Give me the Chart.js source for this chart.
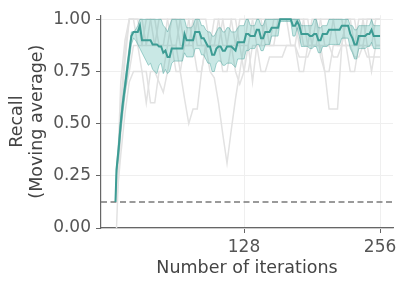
<!DOCTYPE html>
<html>
<head>
<meta charset="utf-8">
<script src="https://cdn.jsdelivr.net/npm/chart.js@4/dist/chart.umd.min.js"></script>
<style>
    html, body { margin: 0; padding: 0; background: #fff; }
    #wrap { width: 407px; height: 287px; position: relative; }
</style>
</head>
<body>
<div id="wrap"><canvas id="recallChart"></canvas></div>
<script>
// iterations for the highlighted method (mean + band)
const meanIters = [7, 8, 10, 12, 14, 16, 18, 20, 22, 24,
    26, 28, 30, 32, 34, 36, 38, 40, 42, 44,
    46, 48, 50, 52, 54, 56, 58, 60, 62, 64,
    66, 68, 70, 72, 74, 76, 78, 80, 82, 84,
    86, 88, 90, 92, 94, 96, 98, 100, 102, 104,
    106, 108, 110, 112, 114, 116, 118, 120, 122, 124,
    126, 128, 130, 132, 134, 136, 138, 140, 142, 144,
    146, 148, 150, 152, 154, 156, 158, 160, 162, 164,
    166, 168, 170, 172, 174, 176, 178, 180, 182, 184,
    186, 188, 190, 192, 194, 196, 198, 200, 202, 204,
    206, 208, 210, 212, 214, 216, 218, 220, 222, 224,
    226, 228, 230, 232, 234, 236, 238, 240, 242, 244,
    246, 248, 250, 252, 254, 256];

const meanRecall = [0.125, 0.28, 0.38, 0.50, 0.60, 0.68, 0.76, 0.84, 0.92, 0.94,
    0.94, 0.94, 0.97, 0.90, 0.90, 0.90, 0.90, 0.90, 0.88, 0.88,
    0.88, 0.87, 0.87, 0.84, 0.85, 0.82, 0.82, 0.86, 0.86, 0.86,
    0.86, 0.86, 0.86, 0.93, 0.90, 0.90, 0.90, 0.90, 0.94, 0.94,
    0.94, 0.91, 0.91, 0.89, 0.87, 0.87, 0.83, 0.83, 0.86, 0.87,
    0.87, 0.85, 0.85, 0.87, 0.87, 0.87, 0.86, 0.85, 0.89, 0.89,
    0.89, 0.89, 0.93, 0.93, 0.92, 0.92, 0.92, 0.95, 0.95, 0.91,
    0.91, 0.94, 0.94, 0.94, 0.96, 0.96, 0.96, 0.96, 1.0, 1.0,
    1.0, 1.0, 1.0, 1.0, 0.97, 0.97, 0.99, 0.97, 0.93, 0.93,
    0.93, 0.93, 0.92, 0.92, 0.93, 0.93, 0.90, 0.90, 0.93, 0.93,
    0.93, 0.95, 0.95, 0.95, 0.95, 0.95, 0.95, 0.97, 0.97, 0.97,
    0.97, 0.93, 0.91, 0.88, 0.88, 0.92, 0.92, 0.92, 0.92, 0.93,
    0.93, 0.95, 0.92, 0.92, 0.92, 0.92];

const upperRecall = [0.125, 0.30, 0.42, 0.54, 0.63, 0.71, 0.79, 0.87, 0.94, 0.94,
    0.95, 0.97, 1.0, 1.0, 1.0, 1.0, 1.0, 1.0, 1.0, 1.0,
    1.0, 1.0, 1.0, 0.97, 0.96, 0.94, 0.97, 1.0, 1.0, 1.0,
    1.0, 1.0, 1.0, 1.0, 0.96, 0.96, 0.96, 0.97, 1.0, 1.0,
    1.0, 0.97, 0.97, 0.95, 0.94, 0.94, 0.92, 0.92, 0.94, 0.96,
    0.96, 0.94, 0.94, 0.96, 0.96, 0.94, 0.94, 0.94, 0.96, 0.97,
    0.97, 0.97, 1.0, 1.0, 0.97, 0.97, 0.97, 1.0, 1.0, 0.97,
    0.97, 1.0, 1.0, 1.0, 1.0, 1.0, 1.0, 1.0, 1.0, 1.0,
    1.0, 1.0, 1.0, 1.0, 1.0, 1.0, 1.0, 1.0, 0.97, 0.97,
    0.97, 0.97, 0.97, 0.97, 1.0, 1.0, 0.96, 0.96, 0.97, 0.97,
    0.97, 1.0, 1.0, 1.0, 1.0, 1.0, 1.0, 1.0, 1.0, 1.0,
    1.0, 0.97, 0.97, 0.95, 0.95, 0.97, 0.97, 0.97, 0.97, 0.97,
    0.97, 1.0, 0.97, 0.97, 0.97, 0.97];

const lowerRecall = [0.125, 0.26, 0.34, 0.46, 0.56, 0.64, 0.72, 0.80, 0.88, 0.91,
    0.90, 0.88, 0.86, 0.84, 0.82, 0.80, 0.78, 0.79, 0.76, 0.75,
    0.74, 0.78, 0.79, 0.74, 0.76, 0.74, 0.75, 0.79, 0.80, 0.80,
    0.80, 0.80, 0.80, 0.84, 0.82, 0.82, 0.82, 0.82, 0.86, 0.86,
    0.86, 0.83, 0.83, 0.81, 0.79, 0.79, 0.75, 0.75, 0.79, 0.80,
    0.80, 0.78, 0.78, 0.79, 0.79, 0.79, 0.78, 0.77, 0.81, 0.81,
    0.81, 0.81, 0.85, 0.85, 0.86, 0.86, 0.86, 0.88, 0.88, 0.85,
    0.85, 0.88, 0.88, 0.88, 0.92, 0.92, 0.92, 0.92, 0.99, 0.99,
    0.99, 0.99, 0.99, 0.99, 0.92, 0.92, 0.96, 0.92, 0.87, 0.87,
    0.87, 0.87, 0.86, 0.86, 0.87, 0.87, 0.84, 0.84, 0.87, 0.87,
    0.87, 0.88, 0.88, 0.88, 0.88, 0.88, 0.88, 0.91, 0.91, 0.91,
    0.91, 0.86, 0.84, 0.81, 0.81, 0.86, 0.86, 0.86, 0.86, 0.87,
    0.87, 0.89, 0.86, 0.86, 0.86, 0.86];

// background runs (grey)
const runIters = [8, 12, 16, 20, 24, 28, 32, 36, 40, 44,
    48, 52, 56, 60, 64, 68, 72, 76, 80, 84,
    88, 92, 96, 100, 104, 108, 112, 116, 120, 124,
    128, 132, 136, 140, 144, 148, 152, 156, 160, 164,
    168, 172, 176, 180, 184, 188, 192, 196, 200, 204,
    208, 212, 216, 220, 224, 228, 232, 236, 240, 244,
    248, 252, 256];

const runA = [0.0, 0.55, 0.8, 1.0, 1.0, 1.0, 0.875, 0.875, 1.0, 1.0,
    0.875, 0.875, 1.0, 1.0, 1.0, 0.875, 0.875, 1.0, 1.0, 0.875,
    0.875, 0.875, 0.75, 0.72, 0.6, 0.45, 0.31, 0.47, 0.62, 0.75,
    0.875, 1.0, 1.0, 0.875, 0.875, 1.0, 1.0, 1.0, 1.0, 1.0,
    1.0, 0.875, 0.875, 1.0, 1.0, 0.875, 0.875, 1.0, 1.0, 0.875,
    0.875, 1.0, 1.0, 1.0, 0.875, 0.875, 0.875, 1.0, 1.0, 0.875,
    0.875, 1.0, 1.0];
const runB = [0.125, 0.45, 0.65, 0.75, 0.875, 0.875, 0.75, 0.6, 0.75, 0.75,
    0.7, 0.65, 0.75, 0.875, 0.875, 0.75, 0.62, 0.5, 0.57, 0.57,
    0.75, 0.875, 0.875, 0.875, 1.0, 1.0, 0.875, 0.875, 0.75, 0.69,
    0.75, 0.875, 0.7, 0.875, 0.875, 0.875, 0.875, 0.875, 0.875, 0.875,
    0.875, 0.875, 0.875, 0.75, 0.75, 0.875, 0.875, 0.875, 0.875, 0.75,
    0.75, 0.875, 0.875, 0.875, 0.875, 0.75, 0.75, 0.875, 0.875, 0.875,
    0.75, 0.875, 0.875];
const runC = [0.125, 0.6, 0.85, 1.0, 1.0, 1.0, 1.0, 0.875, 0.875, 0.875,
    1.0, 1.0, 1.0, 0.875, 0.875, 1.0, 1.0, 1.0, 0.875, 1.0,
    1.0, 1.0, 0.875, 0.875, 0.875, 1.0, 1.0, 1.0, 0.875, 1.0,
    1.0, 1.0, 1.0, 1.0, 1.0, 0.875, 0.875, 1.0, 1.0, 1.0,
    1.0, 1.0, 1.0, 1.0, 0.875, 0.875, 1.0, 1.0, 0.82, 0.75,
    0.57, 0.57, 0.57, 0.875, 1.0, 1.0, 0.875, 0.875, 1.0, 1.0,
    1.0, 0.875, 0.875];
const runD = [0.125, 0.35, 0.55, 0.7, 0.75, 0.75, 0.75, 0.75, 0.6, 0.6,
    0.75, 0.75, 0.875, 0.875, 0.75, 0.75, 0.875, 0.875, 0.875, 0.75,
    0.75, 0.875, 0.875, 0.875, 0.875, 0.75, 0.75, 0.875, 0.875, 0.875,
    0.75, 0.75, 0.875, 0.875, 0.75, 0.75, 0.82, 0.82, 0.82, 0.82,
    0.875, 0.875, 0.875, 0.82, 0.82, 0.82, 0.875, 0.875, 0.875, 0.875,
    0.875, 0.82, 0.82, 0.875, 0.875, 0.875, 0.82, 0.82, 0.875, 0.82,
    0.82, 0.82, 0.82];
const runE = [0.125, 0.7, 0.9, 1.0, 1.0, 0.875, 0.875, 1.0, 1.0, 0.875,
    0.875, 0.875, 0.875, 1.0, 1.0, 1.0, 0.875, 0.875, 1.0, 1.0,
    0.875, 0.875, 0.875, 1.0, 1.0, 0.875, 0.875, 1.0, 1.0, 0.875,
    0.875, 0.875, 1.0, 1.0, 1.0, 1.0, 0.875, 0.875, 1.0, 1.0,
    1.0, 1.0, 1.0, 0.875, 1.0, 1.0, 0.875, 0.875, 1.0, 1.0,
    1.0, 1.0, 0.875, 0.875, 1.0, 1.0, 1.0, 0.875, 0.875, 1.0,
    1.0, 1.0, 1.0];

const xTicks = [128, 256];
const yTicks = [0, 0.25, 0.5, 0.75, 1.0];
const chanceLevel = 0.125;

const teal = '#3d9c94';
const grey = '#e2e2e2';
const textColor = '#555555';
const axisColor = '#666666';
const fontFamily = "'DejaVu Sans', sans-serif";

function pts(iters, vals) {
    return iters.map((x, i) => ({ x: x, y: vals[i] }));
}

function greyRun(vals) {
    return {
        data: pts(runIters, vals),
        borderColor: grey,
        borderWidth: 1.5,
        pointRadius: 0,
        fill: false
    };
}

// dashed chance line across the plot
const chanceLine = {
    id: 'chanceLine',
    beforeDatasetsDraw(chart) {
        const { ctx, chartArea, scales } = chart;
        const y = scales.y.getPixelForValue(chanceLevel);
        ctx.save();
        ctx.strokeStyle = '#7a7a7a';
        ctx.lineWidth = 1.5;
        ctx.setLineDash([6, 3.5]);
        ctx.beginPath();
        ctx.moveTo(chartArea.left, y);
        ctx.lineTo(chartArea.right, y);
        ctx.stroke();
        ctx.restore();
    }
};

const ctx = document.getElementById('recallChart').getContext('2d');
const chart = new Chart(ctx, {
    type: 'line',
    data: {
        datasets: [
            {
                data: pts(meanIters, meanRecall),
                borderColor: teal,
                borderWidth: 2,
                pointRadius: 0,
                fill: false
            },
            {
                data: pts(meanIters, upperRecall),
                borderColor: 'rgba(61,156,148,0.45)',
                borderWidth: 1,
                pointRadius: 0,
                backgroundColor: 'rgba(75,178,168,0.3)',
                fill: '+1'
            },
            {
                data: pts(meanIters, lowerRecall),
                borderColor: 'rgba(61,156,148,0.45)',
                borderWidth: 1,
                pointRadius: 0,
                fill: false
            },
            greyRun(runA),
            greyRun(runB),
            greyRun(runC),
            greyRun(runD),
            greyRun(runE)
        ]
    },
    options: {
        responsive: true,
        maintainAspectRatio: false,
        animation: false,
        layout: { padding: { top: 12, right: 14, left: 0, bottom: 0 } },
        plugins: {
            legend: { display: false },
            tooltip: { enabled: false }
        },
        scales: {
            x: {
                type: 'linear',
                min: -6.6,
                max: 268.2,
                afterBuildTicks: (s) => { s.ticks = xTicks.map(v => ({ value: v })); },
                afterFit: (s) => { s.height = 59; },
                ticks: {
                    color: textColor,
                    font: { family: fontFamily, size: 17 },
                    padding: 4,
                    maxRotation: 0
                },
                grid: {
                    color: '#efefef',
                    tickColor: axisColor,
                    tickLength: 5
                },
                border: { color: axisColor, width: 1.2 },
                title: {
                    display: true,
                    text: 'Number of iterations',
                    color: '#444444',
                    font: { family: fontFamily, size: 17.5 },
                    padding: { top: 0, bottom: 8 }
                }
            },
            y: {
                min: 0,
                max: 1.02,
                afterBuildTicks: (s) => { s.ticks = yTicks.map(v => ({ value: v })); },
                afterFit: (s) => { s.width = 101; },
                ticks: {
                    color: textColor,
                    font: { family: fontFamily, size: 17 },
                    padding: 5,
                    callback: (v) => Number(v).toFixed(2)
                },
                grid: {
                    color: '#efefef',
                    tickColor: axisColor,
                    tickLength: 5
                },
                border: { color: axisColor, width: 1.2 },
                title: {
                    display: true,
                    text: ['Recall', '(Moving average)'],
                    color: '#444444',
                    font: { family: fontFamily, size: 17.5, lineHeight: 1.15 },
                    padding: { top: 7, bottom: 0 }
                }
            }
        }
    },
    plugins: [chanceLine]
});
</script>
</body>
</html>
